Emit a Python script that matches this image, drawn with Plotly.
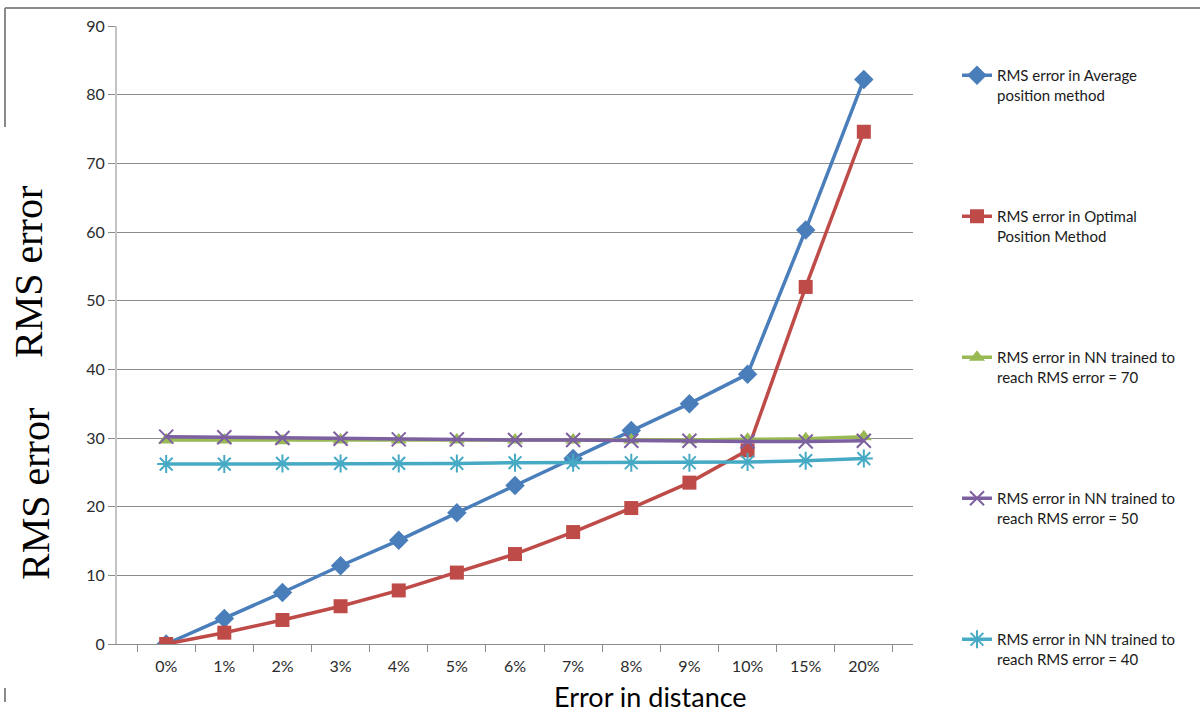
import plotly.graph_objects as go

# Categories along the x axis (error in distance)
categories = ["0%", "1%", "2%", "3%", "4%", "5%", "6%", "7%", "8%", "9%", "10%", "15%", "20%"]

# RMS error series
avg_position = [0, 3.7, 7.5, 11.4, 15.1, 19.1, 23.1, 27.0, 31.1, 35.0, 39.3, 60.3, 82.2]
optimal_position = [0, 1.65, 3.5, 5.5, 7.8, 10.4, 13.1, 16.3, 19.8, 23.5, 28.2, 52.0, 74.6]
nn_70 = [29.7, 29.7, 29.6, 29.7, 29.7, 29.7, 29.7, 29.7, 29.7, 29.7, 29.8, 29.9, 30.2]
nn_50 = [30.2, 30.1, 30.0, 29.9, 29.8, 29.8, 29.7, 29.7, 29.6, 29.6, 29.5, 29.5, 29.6]
nn_40 = [26.2, 26.2, 26.3, 26.3, 26.3, 26.3, 26.4, 26.4, 26.4, 26.4, 26.5, 26.7, 27.0]

series = [
    ("RMS error in Average<br>position method", avg_position, "#4A7EBB",
     dict(symbol="diamond", size=15)),
    ("RMS error in Optimal<br>Position Method", optimal_position, "#BE4B48",
     dict(symbol="square", size=14)),
    ("RMS error in NN trained to<br>reach RMS error = 70", nn_70, "#98B954",
     dict(symbol="triangle-up", size=14)),
    ("RMS error in NN trained to<br>reach RMS error = 50", nn_50, "#7D60A0",
     dict(symbol="x-thin-open", size=14, line=dict(width=2, color="#7D60A0"))),
    ("RMS error in NN trained to<br>reach RMS error = 40", nn_40, "#46AAC5",
     dict(symbol="asterisk-open", size=15, line=dict(width=2, color="#46AAC5"))),
]

fig = go.Figure()
for i, (name, values, color, marker) in enumerate(series):
    marker = dict(marker, color=color)
    fig.add_trace(go.Scatter(
        x=categories, y=values, name=name, mode="lines+markers",
        line=dict(color=color, width=3.5), marker=marker,
        legendgroup=f"g{i}",
    ))

W, H = 1200, 715
L, R, T, B = 117, 913, 26, 644
pw, ph = R - L, B - T


def px(x):
    return (x - L) / pw


def py(y):
    return (B - y) / ph


tick_font = dict(family="Lato, 'Open Sans', sans-serif", size=16, color="#2b2b2b")

fig.update_layout(
    width=W, height=H,
    margin=dict(l=L, r=W - R, t=T, b=H - B),
    paper_bgcolor="white", plot_bgcolor="white",
    showlegend=True,
    legend=dict(
        x=px(957), y=py(59), xanchor="left", yanchor="top",
        traceorder="grouped", tracegroupgap=99, valign="top",
        font=dict(family="Lato, 'Open Sans', sans-serif", size=15, color="#1a1a1a"),
        bgcolor="rgba(0,0,0,0)", itemwidth=30,
    ),
    xaxis=dict(
        type="category", tickson="boundaries", ticks="outside", ticklen=7,
        tickcolor="#8c8c8c", showline=True, linecolor="#8c8c8c", linewidth=1,
        showgrid=False, tickfont=tick_font, fixedrange=True,
        ticklabelstandoff=8,
    ),
    yaxis=dict(
        range=[0, 90], dtick=10, ticks="outside", ticklen=7, tickcolor="#8c8c8c",
        showline=True, linecolor="#c4c4c4", linewidth=2,
        showgrid=True, gridcolor="#8c8c8c", gridwidth=1, zeroline=False,
        tickfont=tick_font, fixedrange=True,
    ),
    annotations=[
        dict(text="RMS error", xref="paper", yref="paper", x=px(28), y=py(272),
             textangle=-90, showarrow=False, xanchor="center", yanchor="middle",
             font=dict(family="Liberation Serif, 'Times New Roman', serif", size=40, color="black")),
        dict(text="RMS error", xref="paper", yref="paper", x=px(35), y=py(494),
             textangle=-90, showarrow=False, xanchor="center", yanchor="middle",
             font=dict(family="Liberation Serif, 'Times New Roman', serif", size=40, color="black")),
        dict(text="Error in distance", xref="paper", yref="paper", x=px(650), y=py(696),
             showarrow=False, xanchor="center", yanchor="middle",
             font=dict(family="Lato, 'Open Sans', sans-serif", size=27, color="black")),
    ],
    shapes=[
        dict(type="line", xref="paper", yref="paper", x0=px(5), x1=px(1200), y0=py(8), y1=py(8),
             line=dict(color="#8a8a8a", width=2)),
        dict(type="line", xref="paper", yref="paper", x0=px(5), x1=px(5), y0=py(8), y1=py(127),
             line=dict(color="#8a8a8a", width=2)),
        dict(type="line", xref="paper", yref="paper", x0=px(5), x1=px(5), y0=py(688), y1=py(702),
             line=dict(color="#8a8a8a", width=2)),
    ],
)

fig.write_html("out.html")
